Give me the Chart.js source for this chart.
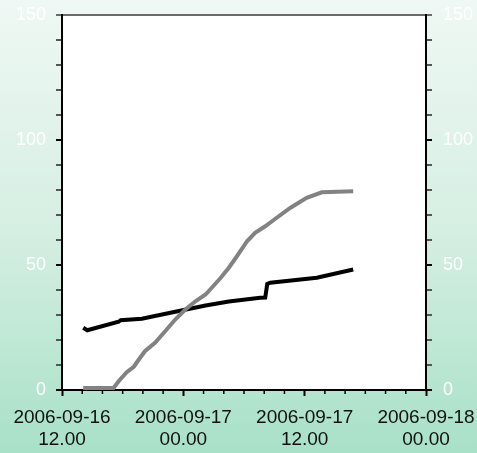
<!DOCTYPE html>
<html>
<head>
<meta charset="utf-8">
<script src="https://cdn.jsdelivr.net/npm/chart.js@4.4.0/dist/chart.umd.min.js"></script>
<style>
    html, body { margin: 0; padding: 0; }
    body {
        width: 477px;
        height: 453px;
        background: linear-gradient(to bottom, #eff8f4 0%, #d6efe3 50%, #a8e1c7 100%);
    }
    canvas { display: block; }
</style>
</head>
<body>
<canvas id="chartSensor" width="477" height="453"></canvas>
<script>
// hours after 2006-09-16 12.00
const blackHours  = [2.1, 2.5, 5.6, 5.8, 7.9, 11.2, 14.2, 16.5, 19.6, 20.1, 20.3, 20.6, 25.2, 28.8];
const blackValues = [24.9, 23.9, 27.3, 27.9, 28.5, 31.3, 33.8, 35.4, 36.9, 37.0, 42.4, 42.9, 44.9, 48.2];

const grayHours  = [2.1, 5.1, 5.6, 6.4, 7.1, 7.6, 8.2, 9.2, 10.2, 11.2, 12.2, 13.2, 14.2, 14.5, 15.7, 16.5, 17.3, 18.3, 19.1, 20.1, 21.1, 22.6, 24.2, 25.7, 28.8];
const grayValues = [0.8, 0.8, 3.5, 7.1, 9.3, 12.2, 15.5, 18.9, 23.5, 28.2, 32.2, 35.5, 38.2, 39.5, 44.9, 48.9, 53.5, 59.5, 62.9, 65.5, 68.5, 72.9, 76.9, 79.1, 79.5];

const xTickHours  = [0, 12, 24, 36];
const xTickLabels = [['2006-09-16', '12.00'], ['2006-09-17', '00.00'], ['2006-09-17', '12.00'], ['2006-09-18', '00.00']];
const yTickValues = [0, 50, 100, 150];

const xMinorStep = 2;
const yMinorStep = 10;

function toPoints(xs, ys) {
    return xs.map((x, i) => ({ x: x, y: ys[i] }));
}

function stepTicks(min, max, step) {
    let t = [];
    for (let v = min; v <= max; v += step) t.push({ value: v });
    return t;
}

function noPadding(scale) {
    scale.paddingLeft = 0;
    scale.paddingRight = 0;
    scale.paddingTop = 0;
    scale.paddingBottom = 0;
}

let fontFace = "'Liberation Sans', Arial, sans-serif";

let plotBackground = {
    id: 'plotBackground',
    beforeDraw: function (chart) {
        let a = chart.chartArea;
        chart.ctx.save();
        chart.ctx.fillStyle = '#ffffff';
        chart.ctx.fillRect(a.left, a.top, a.right - a.left, a.bottom - a.top);
        chart.ctx.restore();
    }
};

/* short minor ticks on the time axis (major ones come from the grid) */
let minorTicks = {
    id: 'minorTicks',
    afterDraw: function (chart) {
        let sx = chart.scales.x;
        let ctx = chart.ctx;
        ctx.save();
        ctx.strokeStyle = '#000000';
        ctx.lineWidth = 1.5;
        sx.ticks.forEach(function (t) {
            if (xTickHours.indexOf(t.value) >= 0) return;
            let px = sx.getPixelForValue(t.value);
            ctx.beginPath();
            ctx.moveTo(px, sx.top);
            ctx.lineTo(px, sx.top + 4);
            ctx.stroke();
        });
        ctx.restore();
    }
};

function yScale(side) {
    return {
        type: 'linear',
        position: side,
        min: 0,
        max: 150,
        afterBuildTicks: (scale) => { scale.ticks = stepTicks(0, 150, yMinorStep); },
        afterFit: function (scale) {
            scale.width = side === 'left' ? 62 : 51;
            noPadding(scale);
        },
        border: { display: true, color: '#000000', width: 2 },
        grid: {
            drawOnChartArea: side === 'left',
            drawTicks: true,
            tickLength: 6,
            tickWidth: 2,
            tickColor: (c) => (c.tick && c.tick.value === 150 ? '#6a6a6a'
                : (yTickValues.indexOf(c.tick.value) >= 0 ? '#000000' : '#555555')),
            color: (c) => (c.tick && c.tick.value === 150 ? '#6a6a6a' : 'transparent'),
            lineWidth: 2
        },
        ticks: {
            autoSkip: false,
            padding: side === 'left' ? 10 : 11,
            color: '#ffffff',
            font: { family: fontFace, size: 18 },
            callback: (v) => (yTickValues.indexOf(v) >= 0 ? v : '')
        }
    };
}

let chartCanvas = document.getElementById('chartSensor');

let chartSensor = new Chart(chartCanvas, {
    type: 'line',
    data: {
        datasets: [
            {
                label: 'gray',
                data: toPoints(grayHours, grayValues),
                borderColor: '#828282',
                borderWidth: 4,
                pointRadius: 0,
                tension: 0,
                yAxisID: 'y'
            },
            {
                label: 'black',
                data: toPoints(blackHours, blackValues),
                borderColor: '#000000',
                borderWidth: 4,
                pointRadius: 0,
                tension: 0,
                yAxisID: 'y'
            }
        ]
    },
    options: {
        responsive: false,
        animation: false,
        layout: { padding: { top: 15, left: 0, right: 0, bottom: 0 } },
        plugins: {
            legend: { display: false },
            tooltip: { enabled: false },
            title: { display: false }
        },
        scales: {
            x: {
                type: 'linear',
                min: 0,
                max: 36,
                afterBuildTicks: (scale) => { scale.ticks = stepTicks(0, 36, xMinorStep); },
                afterFit: function (scale) {
                    scale.height = 63;
                    noPadding(scale);
                },
                border: { display: true, color: '#000000', width: 2 },
                grid: {
                    drawOnChartArea: false,
                    drawTicks: true,
                    tickLength: 6,
                    tickWidth: 2,
                    tickColor: (c) => (xTickHours.indexOf(c.tick.value) >= 0 ? '#000000' : 'transparent')
                },
                ticks: {
                    autoSkip: false,
                    maxRotation: 0,
                    minRotation: 0,
                    padding: 11,
                    color: '#111111',
                    font: { family: fontFace, size: 19, lineHeight: 1.16 },
                    callback: function (v) {
                        let i = xTickHours.indexOf(v);
                        return i >= 0 ? xTickLabels[i] : '';
                    }
                }
            },
            y: yScale('left'),
            y2: yScale('right')
        }
    },
    plugins: [plotBackground, minorTicks]
});
</script>
</body>
</html>
